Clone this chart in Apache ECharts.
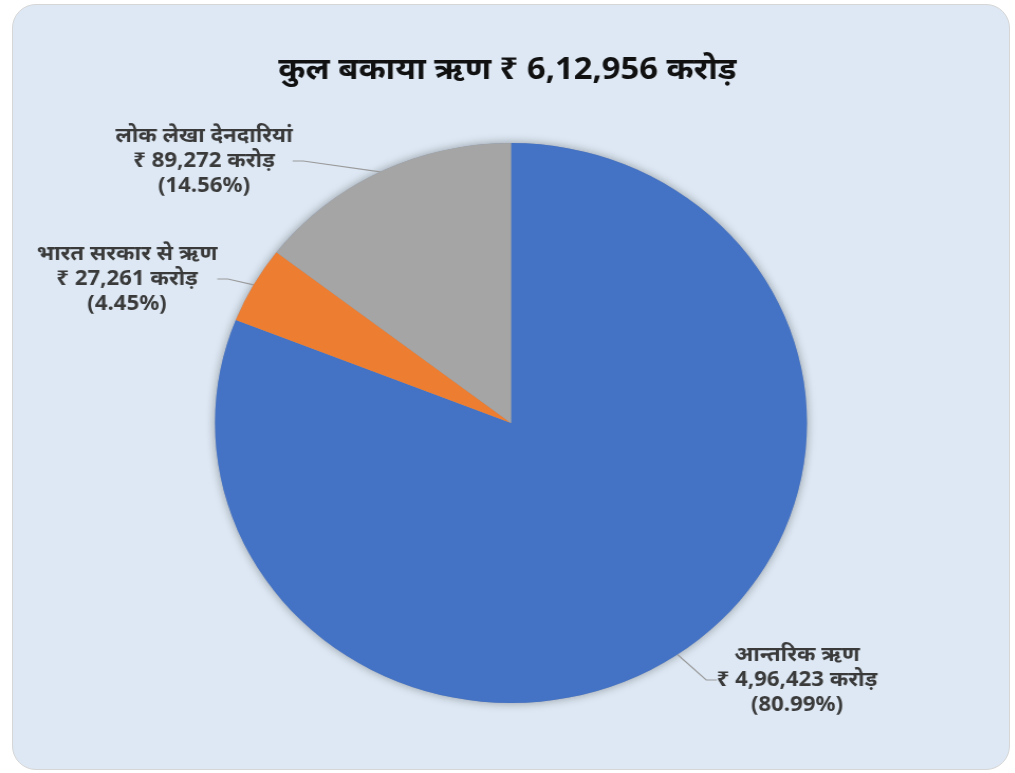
<!DOCTYPE html>
<html>
<head>
<meta charset="utf-8">
<script src="https://cdn.jsdelivr.net/npm/echarts@6/dist/echarts.min.js"></script>
<style>
  html, body { margin: 0; padding: 0; background: #ffffff; overflow: hidden; }
  #box {
    position: absolute; left: 12px; top: 4px; width: 996px; height: 764px;
    background: #dde8f4; border: 1px solid #d6d6d6; border-radius: 24px;
  }
  /* the reference is slightly stretched sideways, so the chart is too */
  #chart {
    position: absolute; left: 0; top: 0; width: 960px; height: 773px;
    transform: scaleX(1.057); transform-origin: 0 0;
  }
</style>
</head>
<body>
<div id="box"></div>
<div id="chart"></div>
<script>
const titleText = 'कुल बकाया ऋण ₹ 6,12,956 करोड़';
const categories = ['आन्तरिक ऋण', 'भारत सरकार से ऋण', 'लोक लेखा देनदारियां'];
const values = [496423, 27261, 89272];
const colors = ['#4472C4', '#ED7D31', '#A5A5A5'];

const sx = 1.057;

// Indian digit grouping: 4,96,423
function inr(n) {
  const s = String(n);
  if (s.length <= 3) return s;
  const last3 = s.slice(-3);
  const rest = s.slice(0, -3).replace(/\B(?=(\d{2})+(?!\d))/g, ',');
  return rest + ',' + last3;
}

// label centres on the page, by slice index
const labelSpots = [[797, 680], [127, 279], [204, 161]];

const chart = echarts.init(document.getElementById('chart'));
const total = values.reduce((a, b) => a + b, 0);
const center = [511 / sx, 423];

chart.setOption({
  backgroundColor: 'transparent',
  title: {
    text: titleText,
    left: 'center',
    top: 50,
    textStyle: { fontFamily: 'Noto Sans', fontSize: 31, fontWeight: 'bold', color: '#111111' }
  },
  series: [{
    // soft shadow behind the pie
    type: 'pie',
    silent: true,
    center: center,
    radius: 280,
    z: 1,
    label: { show: false },
    labelLine: { show: false },
    data: [{ value: total, itemStyle: { color: '#8a9bb0', shadowBlur: 10, shadowColor: 'rgba(0,0,0,0.35)' } }],
    emphasis: { disabled: true }
  }, {
    type: 'pie',
    z: 2,
    center: center,
    radius: 280,
    startAngle: 90,
    clockwise: true,
    percentPrecision: 2,
    color: colors,
    data: categories.map((c, i) => ({ name: c, value: values[i] })),
    itemStyle: { borderWidth: 0 },
    label: {
      show: true,
      position: 'outside',
      formatter: p => p.name + '\n₹ ' + inr(p.value) + ' करोड़\n(' + p.percent.toFixed(2) + '%)',
      fontFamily: 'Noto Sans',
      fontSize: 21,
      fontWeight: 'bold',
      lineHeight: 25,
      color: '#3a3a3a',
      align: 'center'
    },
    labelLine: {
      show: true,
      length: 4,
      length2: 10,
      lineStyle: { color: '#9a9a9a', width: 1.2 }
    },
    labelLayout: function (params) {
      const s = labelSpots[params.dataIndex];
      return { x: s[0] / sx, y: s[1], align: 'center', verticalAlign: 'middle' };
    },
    emphasis: { disabled: true },
    silent: true
  }]
});
</script>
</body>
</html>
